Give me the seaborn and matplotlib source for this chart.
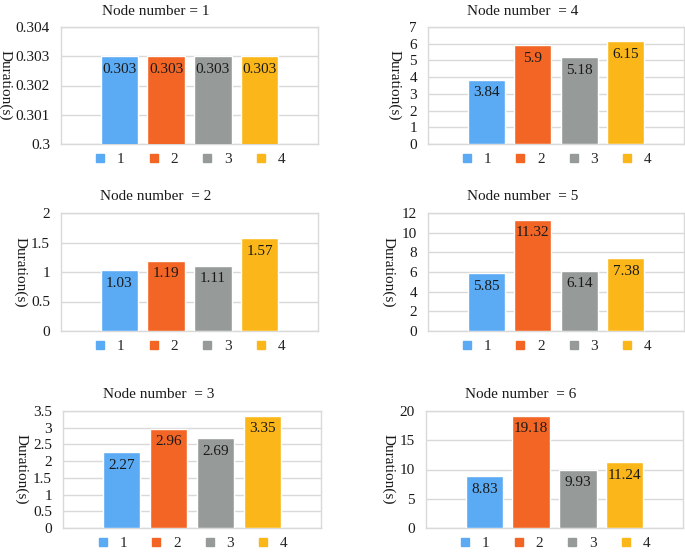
import matplotlib
matplotlib.use("Agg")
import matplotlib.pyplot as plt
from matplotlib.lines import Line2D
import seaborn as sns
import pandas as pd

sns.set_theme(style="white")
plt.rcParams['font.family'] = ['Liberation Serif', 'DejaVu Serif']

series = ["1", "2", "3", "4"]
colors = ["#5AAAF4", "#F26525", "#969B9A", "#FBB71A"]

node_titles = ["Node number = 1", "Node number  = 2", "Node number  = 3",
               "Node number  = 4", "Node number  = 5", "Node number  = 6"]

node1 = [0.303, 0.303, 0.303, 0.303]
node2 = [1.03, 1.19, 1.11, 1.57]
node3 = [2.27, 2.96, 2.69, 3.35]
node4 = [3.84, 5.9, 5.18, 6.15]
node5 = [5.85, 11.32, 6.14, 7.38]
node6 = [8.83, 19.18, 9.93, 11.24]

ticks1 = [0.3, 0.301, 0.302, 0.303, 0.304]
ticks2 = [0, 0.5, 1, 1.5, 2]
ticks3 = [0, 0.5, 1, 1.5, 2, 2.5, 3, 3.5]
ticks4 = [0, 1, 2, 3, 4, 5, 6, 7]
ticks5 = [0, 2, 4, 6, 8, 10, 12]
ticks6 = [0, 5, 10, 15, 20]

ylabel = "Duration(s)"

W, H = 685, 552
fig = plt.figure(figsize=(W / 100, H / 100), dpi=100)

# (left, top, right, bottom) in pixels, ylabel x in axes fraction
layout = [
    (61, 27, 318, 144, -0.215),
    (61, 213, 318, 331, -0.16),
    (63, 411, 321, 528, -0.16),
    (428, 27, 684, 144, -0.13),
    (428, 213, 684, 331, -0.155),
    (426, 411, 683, 528, -0.148),
]
datas = [node1, node2, node3, node4, node5, node6]
tickss = [ticks1, ticks2, ticks3, ticks4, ticks5, ticks6]

grid_col = "#D9D9D9"
txt_col = "#1a1a1a"

for (l, t, r, b, ylx), vals, ticks, title in zip(layout, datas, tickss, node_titles):
    ax = fig.add_axes([l / W, 1 - b / H, (r - l) / W, (b - t) / H])
    df = pd.DataFrame({"series": series, "value": vals})
    sns.barplot(data=df, x="series", y="value", hue="series", palette=colors,
                order=series, hue_order=series, width=0.8, legend=False,
                saturation=1, ax=ax, zorder=3)
    ax.set_xlim(-1.25, 4.25)
    ax.set_ylim(ticks[0], ticks[-1])
    ax.set_yticks(ticks)
    ax.set_yticklabels([f"{v:g}" for v in ticks], fontsize=11, color=txt_col)
    ax.tick_params(axis='y', length=0, pad=8)
    ax.set_xticks([])
    ax.set_xlabel("")
    ax.set_ylabel(ylabel, fontsize=11, rotation=-90, color=txt_col,
                  va='center', ha='center')
    ax.yaxis.set_label_coords(ylx, 0.5)
    ax.grid(axis='y', color=grid_col, linewidth=1, zorder=0)
    ax.set_axisbelow(True)
    for s in ax.spines.values():
        s.set_color(grid_col)
        s.set_linewidth(1)
    for cont in ax.containers:
        ax.bar_label(cont, fmt="%g", padding=-14, fontsize=11, color=txt_col)
    ax.set_title(title, fontsize=11, x=0.37, pad=9, color=txt_col)
    handles = [Line2D([], [], marker='s', linestyle='', markersize=5.5,
                      markerfacecolor=c, markeredgecolor=c) for c in colors]
    ax.legend(handles, series, ncol=4, loc='center', bbox_to_anchor=(0.5, -0.13),
              frameon=False, fontsize=11, handlelength=0.8, handletextpad=0.7,
              columnspacing=1.5, borderaxespad=0)

fig.savefig("out.png", dpi=100)
